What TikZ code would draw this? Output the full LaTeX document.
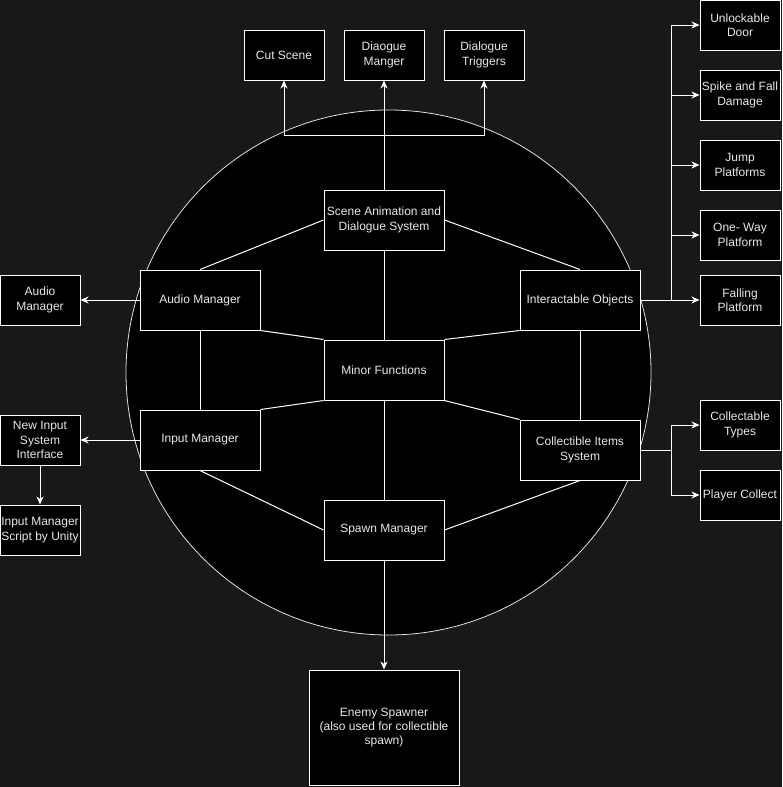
\documentclass[tikz,border=0pt]{standalone}
\usepackage{fontspec}
\setmainfont{Liberation Sans}
\usetikzlibrary{arrows.meta}
\definecolor{bg}{RGB}{24,24,24}
\definecolor{txt}{RGB}{232,232,232}
\definecolor{ring}{RGB}{225,225,225}
\begin{document}
\begin{tikzpicture}[x=1pt,y=-1pt,
  box/.style={draw=white, fill=black, line width=1pt, text=txt, align=center,
    font=\fontsize{12}{14.4}\selectfont, inner sep=0pt,
    minimum width=80pt, minimum height=50pt},
  wide/.style={box, minimum width=120pt, minimum height=60pt},
  link/.style={draw=white, line width=1pt},
  arr/.style={link, -{Stealth[length=8pt,width=7pt,inset=2.5pt]}}]
% canvas
\fill[bg] (0,0) rectangle (782,787);
\useasboundingbox (0,0) rectangle (782,787);
% core boundary
\filldraw[fill=black, draw=ring, line width=0.8pt] (388.5,372.5) circle[radius=262.5];

% top row
\node[box] (cut)   at (284,55) {Cut Scene};
\node[box] (dmgr)  at (384,55) {Diaogue\\Manger};
\node[box] (dtrig) at (484,55) {Dialogue\\Triggers};

% core systems
\node[wide] (scene) at (384,220) {Scene Animation and\\Dialogue System};
\node[wide] (minor) at (384,370) {Minor Functions};
\node[wide] (audio) at (200,300) {Audio Manager};
\node[wide] (input) at (200,440) {Input Manager};
\node[wide] (inter) at (580,300) {Interactable Objects};
\node[wide] (coll)  at (580,450) {Collectible Items\\System};
\node[wide] (spawn) at (384,530) {Spawn Manager};
\node[box, minimum width=150pt, minimum height=115pt] (enemy) at (384,727.5)
  {Enemy Spawner\\(also used for collectible\\spawn)};

% left column
\node[box] (audioout) at (40,300) {Audio\\Manager};
\node[box] (newin)    at (40,440) {New Input\\System\\Interface};
\node[box] (ims)      at (40,530) {Input Manager\\Script by Unity};

% right column
\node[box] (door)    at (740,25)  {Unlockable\\Door};
\node[box] (spike)   at (740,95)  {Spike and Fall\\Damage};
\node[box] (jump)    at (740,165) {Jump\\Platforms};
\node[box] (oneway)  at (740,235) {One- Way\\Platform};
\node[box] (falling) at (740,300) {Falling\\Platform};
\node[box] (ctypes)  at (740,425) {Collectable\\Types};
\node[box] (pcoll)   at (740,495) {Player Collect};

% links inside the core
\draw[link] (scene.west) -- (audio.north);
\draw[link] (scene.east) -- (inter.north);
\draw[link] (scene.south) -- (minor.north);
\draw[link] (audio.south east) -- (minor.north west);
\draw[link] (inter.south west) -- (minor.north east);
\draw[link] (minor.south west) -- (input.north east);
\draw[link] (minor.south east) -- (coll.north west);
\draw[link] (audio.south) -- (input.north);
\draw[link] (inter.south) -- (coll.north);
\draw[link] (minor.south) -- (spawn.north);
\draw[link] (input.south) -- (spawn.west);
\draw[link] (coll.south) -- (spawn.east);

% dialogue branch
\coordinate (split) at (384,135);
\draw[arr] (scene.north) -- (dmgr.south);
\draw[arr] (split) -| (cut.south);
\draw[arr] (split) -| (dtrig.south);

% outward arrows
\draw[arr] (spawn.south) -- (enemy.north);
\draw[arr] (audio.west) -- (audioout.east);
\draw[arr] (input.west) -- (newin.east);
\draw[arr] (newin.south) -- (ims.north);

% interactable objects branch
\coordinate (ib) at (671,300);
\draw[arr] (inter.east) -- (falling.west);
\draw[arr] (ib) |- (door.west);
\draw[arr] (ib) |- (spike.west);
\draw[arr] (ib) |- (jump.west);
\draw[arr] (ib) |- (oneway.west);

% collectible branch
\coordinate (cb) at (671,450);
\draw[link] (coll.east) -- (cb);
\draw[arr] (cb) |- (ctypes.west);
\draw[arr] (cb) |- (pcoll.west);
\end{tikzpicture}
\end{document}
